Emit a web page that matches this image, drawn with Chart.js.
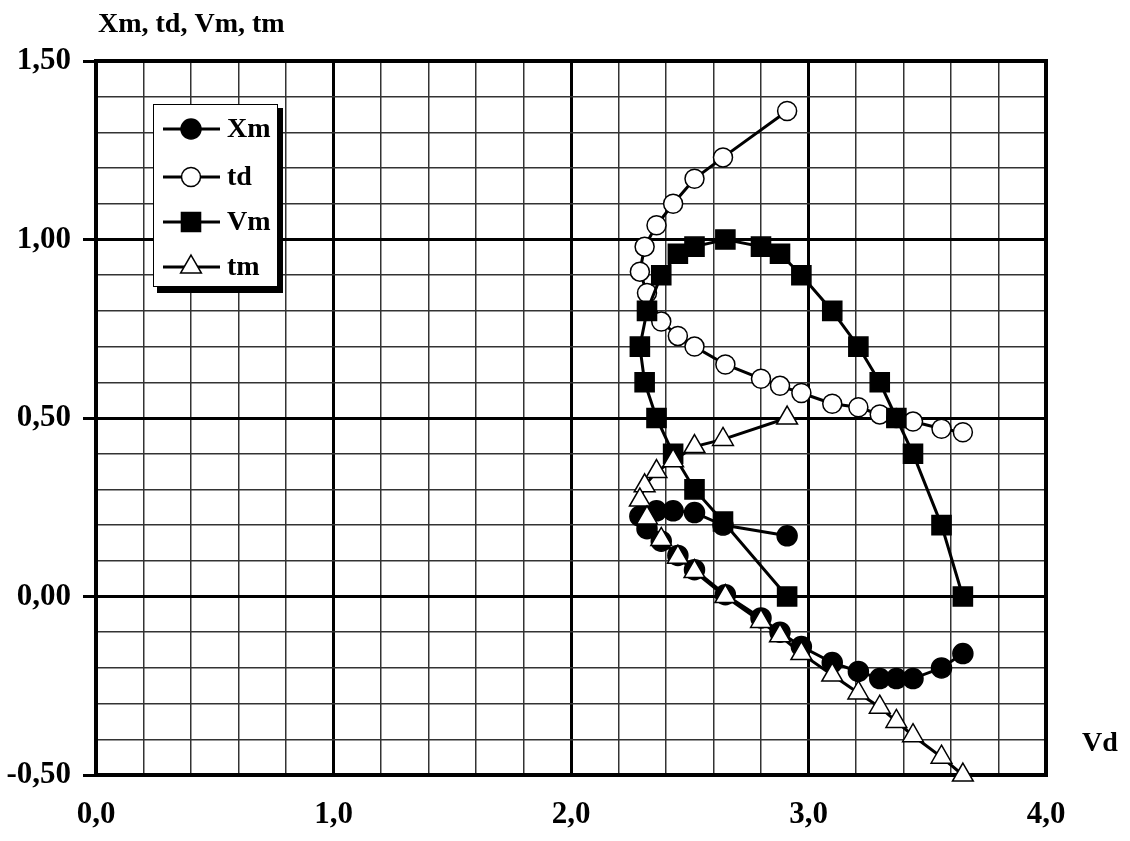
<!DOCTYPE html>
<html>
<head>
<meta charset="utf-8">
<script src="https://cdn.jsdelivr.net/npm/chart.js@4.4.0/dist/chart.umd.min.js"></script>
<style>
  body { margin: 0; background: #fff; }
  canvas { display: block; }
</style>
</head>
<body>
<canvas id="chart" width="1130" height="841"></canvas>
<script>
// values (Vd is shared by all four curves)
const vd = [2.91, 2.64, 2.52, 2.43, 2.36, 2.31, 2.29, 2.32, 2.38, 2.45, 2.52, 2.65, 2.80, 2.88, 2.97, 3.10, 3.21, 3.30, 3.37, 3.44, 3.56, 3.65];
const xm = [0.17, 0.20, 0.235, 0.24, 0.24, 0.235, 0.225, 0.19, 0.155, 0.115, 0.075, 0.005, -0.06, -0.10, -0.14, -0.185, -0.21, -0.23, -0.23, -0.23, -0.20, -0.16];
const td = [1.36, 1.23, 1.17, 1.10, 1.04, 0.98, 0.91, 0.85, 0.77, 0.73, 0.70, 0.65, 0.61, 0.59, 0.57, 0.54, 0.53, 0.51, 0.50, 0.49, 0.47, 0.46];
const vm = [0.00, 0.21, 0.30, 0.40, 0.50, 0.60, 0.70, 0.80, 0.90, 0.96, 0.98, 1.00, 0.98, 0.96, 0.90, 0.80, 0.70, 0.60, 0.50, 0.40, 0.20, 0.00];
const tm = [0.50, 0.44, 0.42, 0.38, 0.35, 0.31, 0.27, 0.22, 0.16, 0.11, 0.07, 0.00, -0.07, -0.11, -0.16, -0.22, -0.27, -0.31, -0.35, -0.39, -0.45, -0.50];

const seriesNames = ['Xm', 'td', 'Vm', 'tm'];
const yTitle = 'Xm, td, Vm, tm';
const xTitle = 'Vd';

const FONT = "'Liberation Serif', 'Times New Roman', serif";

function points(ys) {
    return ys.map((y, i) => ({ x: vd[i], y: y }));
}
function isMajor(v, step) {
    const k = v / step;
    return Math.abs(k - Math.round(k)) < 1e-6;
}
function comma(v, digits) {
    return v.toFixed(digits).replace('.', ',');
}

function makeSet(label, ys, style, fill, radius, order) {
    return {
        label: label,
        data: points(ys),
        showLine: true,
        clip: false,
        borderColor: '#000',
        borderWidth: 3,
        pointStyle: style,
        pointRadius: radius,
        pointBackgroundColor: fill,
        pointBorderColor: '#000',
        pointBorderWidth: 1.5,
        order: order
    };
}

// simple marker drawing for the legend
function drawMarker(ctx, style, fill, r, x, y) {
    ctx.save();
    ctx.beginPath();
    if (style === 'circle') {
        ctx.arc(x, y, r, 0, Math.PI * 2);
    } else if (style === 'rect') {
        const s = r * Math.SQRT1_2;
        ctx.rect(x - s, y - s, 2 * s, 2 * s);
    } else if (style === 'triangle') {
        let a = 0;
        ctx.moveTo(x + Math.sin(a) * r, y - Math.cos(a) * r);
        a += Math.PI * 2 / 3;
        ctx.lineTo(x + Math.sin(a) * r, y - Math.cos(a) * r);
        a += Math.PI * 2 / 3;
        ctx.lineTo(x + Math.sin(a) * r, y - Math.cos(a) * r);
        ctx.closePath();
    }
    ctx.fillStyle = fill;
    ctx.fill();
    ctx.lineWidth = 1.5;
    ctx.strokeStyle = '#000';
    ctx.stroke();
    ctx.restore();
}

const framePlugin = {
    id: 'frame',
    beforeDatasetsDraw(chart) {
        const a = chart.chartArea;
        const ctx = chart.ctx;
        ctx.save();
        ctx.lineWidth = 4;
        ctx.strokeStyle = '#000';
        ctx.strokeRect(a.left, a.top, a.right - a.left, a.bottom - a.top);
        ctx.restore();
    }
};

const textPlugin = {
    id: 'texts',
    afterDraw(chart) {
        const a = chart.chartArea;
        const ctx = chart.ctx;
        ctx.save();
        ctx.fillStyle = '#000';
        ctx.font = 'bold 28px ' + FONT;
        ctx.textBaseline = 'middle';
        ctx.textAlign = 'left';
        ctx.fillText(yTitle, a.left + 2, 25);
        ctx.fillText(xTitle, a.right + 36, a.bottom - 31);

        // legend box with shadow
        const bx = a.left + 57, by = a.top + 43, bw = 124, bh = 182;
        ctx.fillStyle = '#000';
        ctx.fillRect(bx + 4, by + 4, bw + 2, bh + 3);
        ctx.fillStyle = '#fff';
        ctx.fillRect(bx, by, bw, bh);
        ctx.lineWidth = 1;
        ctx.strokeStyle = '#000';
        ctx.strokeRect(bx + 0.5, by + 0.5, bw, bh);

        ctx.font = 'bold 28px ' + FONT;
        const rowY = [25, 73, 118, 163];
        chart.data.datasets.forEach((ds, i) => {
            const y = by + rowY[i];
            ctx.beginPath();
            ctx.moveTo(bx + 10, y);
            ctx.lineTo(bx + 67, y);
            ctx.lineWidth = 3;
            ctx.strokeStyle = '#000';
            ctx.stroke();
            drawMarker(ctx, ds.pointStyle, ds.pointBackgroundColor, ds.pointRadius, bx + 38, y);
            ctx.fillStyle = '#000';
            ctx.fillText(ds.label, bx + 74, y + 1);
        });
        ctx.restore();
    }
};

const ctx = document.getElementById('chart').getContext('2d');
const chart = new Chart(ctx, {
    type: 'scatter',
    data: {
        datasets: [
            makeSet(seriesNames[0], xm, 'circle', '#000', 10, 4),
            makeSet(seriesNames[1], td, 'circle', '#fff', 9.5, 3),
            makeSet(seriesNames[2], vm, 'rect', '#000', 13.5, 2),
            makeSet(seriesNames[3], tm, 'triangle', '#fff', 12, 1)
        ]
    },
    options: {
        responsive: false,
        animation: false,
        devicePixelRatio: 1,
        layout: { padding: { top: 61, right: 84, left: 0, bottom: 0 } },
        plugins: {
            legend: { display: false },
            tooltip: { enabled: false }
        },
        scales: {
            x: {
                type: 'linear',
                min: 0,
                max: 4,
                afterFit(scale) { scale.height = 66; },
                ticks: {
                    stepSize: 0.2,
                    autoSkip: false,
                    maxRotation: 0,
                    padding: 21,
                    color: '#000',
                    font: { family: FONT, size: 31, weight: 'bold' },
                    callback: v => isMajor(v, 1) ? comma(v, 1) : ''
                },
                grid: {
                    drawTicks: false,
                    color: c => isMajor(c.tick.value, 1) ? '#000' : '#333',
                    lineWidth: c => isMajor(c.tick.value, 1) ? 3 : 1.5
                },
                border: { display: true, color: '#000', width: 4 }
            },
            y: {
                type: 'linear',
                min: -0.5,
                max: 1.5,
                afterFit(scale) { scale.width = 96; },
                ticks: {
                    stepSize: 0.1,
                    autoSkip: false,
                    padding: 12,
                    color: '#000',
                    font: { family: FONT, size: 31, weight: 'bold' },
                    callback: v => isMajor(v, 0.5) ? comma(v, 2) : ''
                },
                grid: {
                    tickLength: 13,
                    tickWidth: 3,
                    tickColor: c => isMajor(c.tick.value, 0.5) ? '#000' : 'rgba(0,0,0,0)',
                    color: c => isMajor(c.tick.value, 0.5) ? '#000' : '#333',
                    lineWidth: c => isMajor(c.tick.value, 0.5) ? 3 : 1.5
                },
                border: { display: true, color: '#000', width: 4 }
            }
        }
    },
    plugins: [framePlugin, textPlugin]
});
</script>
</body>
</html>
